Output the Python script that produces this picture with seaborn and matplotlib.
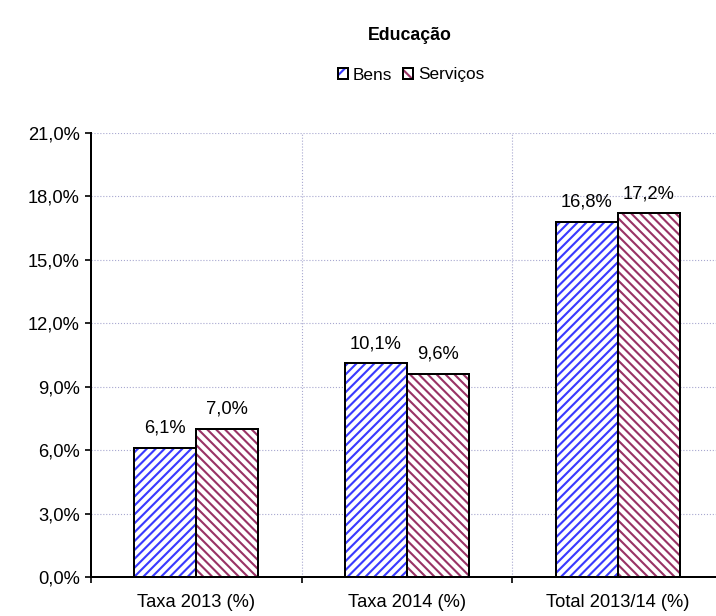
import pandas as pd
import matplotlib.pyplot as plt
import seaborn as sns
from matplotlib.legend_handler import HandlerTuple

categories = ['Taxa 2013 (%)', 'Taxa 2014 (%)', 'Total 2013/14 (%)']
bens = [6.1, 10.1, 16.8]
servicos = [7.0, 9.6, 17.2]
series_names = ['Bens', 'Serviços']
y_ticks = [0, 3, 6, 9, 12, 15, 18, 21]

sns.set_style('white')
plt.rcParams['font.family'] = ['Liberation Sans', 'DejaVu Sans']
plt.rcParams['text.color'] = 'black'
plt.rcParams['xtick.color'] = 'black'
plt.rcParams['ytick.color'] = 'black'
plt.rcParams['hatch.linewidth'] = 1.9

df = pd.DataFrame({
    'categoria': categories * 2,
    'valor': bens + servicos,
    'serie': [series_names[0]] * 3 + [series_names[1]] * 3,
})

# dpi 80 so the hatch spacing matches the original
DPI = 80
fig = plt.figure(figsize=(716 / DPI, 616 / DPI), dpi=DPI)
ax = fig.add_axes([91 / 716, 39 / 616, 632 / 716, 444 / 616])

hatch_colors = {'Bens': '#3a3aff', 'Serviços': '#993366'}
hatches = {'Bens': '///', 'Serviços': '\\\\\\'}
fs = 16.5

# hatched fill
sns.barplot(data=df, x='categoria', y='valor', hue='serie', order=categories,
            hue_order=series_names, width=0.59, ax=ax, legend=False,
            palette=['white', 'white'], saturation=1, gap=0)
for cont, name in zip(ax.containers, series_names):
    for p in cont:
        p.set_hatch(hatches[name])
        p.set_edgecolor(hatch_colors[name])
        p.set_linewidth(0)

# black outline on top
sns.barplot(data=df, x='categoria', y='valor', hue='serie', order=categories,
            hue_order=series_names, width=0.59, ax=ax, legend=False,
            palette=['white', 'white'], saturation=1, gap=0)
for cont in ax.containers[2:]:
    for p in cont:
        p.set_facecolor('none')
        p.set_edgecolor('black')
        p.set_linewidth(1.8)

# value labels
for cont in ax.containers[2:]:
    ax.bar_label(cont, labels=[f'{v:.1f}%'.replace('.', ',') for v in cont.datavalues],
                 padding=10, fontsize=fs)

ax.set_ylim(0, 21)
ax.set_xlim(-0.5, 2.5)
ax.set_yticks(y_ticks)
ax.set_yticklabels([f'{v:.1f}%'.replace('.', ',') for v in y_ticks], fontsize=fs)
ax.set_xticks(range(3))
ax.set_xticklabels(categories, fontsize=fs)
ax.tick_params(axis='x', length=0, pad=15)
ax.set_xticks([-0.5, 0.5, 1.5, 2.5], minor=True)
ax.tick_params(axis='x', which='minor', length=5, width=1.5, direction='out', bottom=True)
ax.tick_params(axis='y', length=5, width=1.5, direction='out', left=True, pad=5)
ax.set_xlabel('')
ax.set_ylabel('')

ax.grid(axis='y', color='#a8a8d0', linestyle=':', linewidth=1)
for xv in [0.5, 1.5]:
    ax.axvline(xv, color='#a8a8d0', linestyle=':', linewidth=1, zorder=0)
ax.set_axisbelow(True)

for s in ['top', 'right']:
    ax.spines[s].set_visible(False)
for s in ['left', 'bottom']:
    ax.spines[s].set_color('black')
    ax.spines[s].set_linewidth(1.8)

# legend: hatched square with black border
handles = []
for n in series_names:
    fill = plt.Rectangle((0, 0), 1, 1, facecolor='white', edgecolor=hatch_colors[n],
                         hatch=hatches[n][0] * 2, linewidth=0)
    edge = plt.Rectangle((0, 0), 1, 1, facecolor='none', edgecolor='black', linewidth=1.8)
    handles.append((fill, edge))
fig.legend(handles, series_names, loc='center', bbox_to_anchor=(411 / 716, 1 - 75 / 616),
           ncol=2, frameon=False, fontsize=15.5, handlelength=0.6, handleheight=0.6,
           handletextpad=0.3, columnspacing=0.6,
           handler_map={tuple: HandlerTuple(ndivide=1, pad=0)})

fig.text(410 / 716, 1 - 35 / 616, 'Educação', ha='center', va='center',
         fontsize=16, fontweight='bold')

fig.savefig('out.png', dpi=DPI)
